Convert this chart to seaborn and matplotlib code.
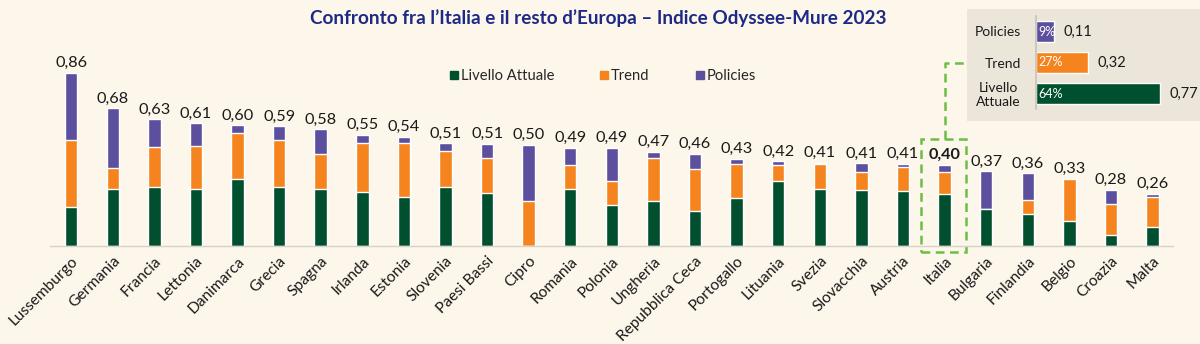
import matplotlib
matplotlib.use("Agg")
import matplotlib.pyplot as plt
import seaborn as sns
import pandas as pd
import numpy as np
from matplotlib.patches import Rectangle
from matplotlib.lines import Line2D

countries = ["Lussemburgo", "Germania", "Francia", "Lettonia", "Danimarca", "Grecia", "Spagna",
             "Irlanda", "Estonia", "Slovenia", "Paesi Bassi", "Cipro", "Romania", "Polonia",
             "Ungheria", "Repubblica Ceca", "Portogallo", "Lituania", "Svezia", "Slovacchia",
             "Austria", "Italia", "Bulgaria", "Finlandia", "Belgio", "Croazia", "Malta"]
livello = [0.19, 0.28, 0.29, 0.28, 0.33, 0.29, 0.28, 0.265, 0.24, 0.29, 0.26, 0.0, 0.28, 0.20,
           0.22, 0.17, 0.235, 0.32, 0.28, 0.275, 0.27, 0.257, 0.18, 0.16, 0.125, 0.055, 0.095]
trend = [0.335, 0.107, 0.20, 0.215, 0.232, 0.237, 0.175, 0.245, 0.27, 0.182, 0.177, 0.224, 0.121,
         0.123, 0.215, 0.21, 0.17, 0.08, 0.126, 0.089, 0.119, 0.107, 0.0, 0.065, 0.206, 0.153, 0.148]
policies = [0.335, 0.295, 0.138, 0.114, 0.036, 0.066, 0.123, 0.04, 0.03, 0.036, 0.07, 0.278, 0.087,
            0.164, 0.033, 0.078, 0.028, 0.02, 0.005, 0.046, 0.017, 0.037, 0.19, 0.134, 0.0, 0.071, 0.016]
totals = [0.86, 0.68, 0.63, 0.61, 0.60, 0.59, 0.58, 0.55, 0.54, 0.51, 0.51, 0.50, 0.49, 0.49,
          0.47, 0.46, 0.43, 0.42, 0.41, 0.41, 0.41, 0.40, 0.37, 0.36, 0.33, 0.28, 0.26]

ita_labels = ["Policies", "Trend", "Livello\nAttuale"]
ita_values = [0.11, 0.32, 0.77]
ita_pct = ["9%", "27%", "64%"]

C_GREEN = "#004F2E"
C_ORANGE = "#F5841F"
C_PURPLE = "#5B4F9E"
BG = "#FDF6EA"
BOX = "#ECE6DA"
DASH = "#6DBE45"
TITLE = "#1C2A86"
TXT = "#1A1A1A"

sns.set_theme(style="white")
plt.rcParams["font.family"] = ["Lato", "DejaVu Sans"]

df = pd.DataFrame({"country": countries, "livello": livello, "trend": trend, "policies": policies})
df["lt"] = df["livello"] + df["trend"]
df["all"] = df["lt"] + df["policies"]

fig = plt.figure(figsize=(12, 3.44), dpi=100, facecolor=BG)
W, H = 1200, 344

# Inset background box (drawn behind everything)
fig.add_artist(Rectangle((967 / W, 1 - 121 / H), 240 / W, 112 / H, facecolor=BOX,
                         edgecolor="none", transform=fig.transFigure, zorder=-1))

ax = fig.add_axes([50.4 / W, 1 - 245.7 / H, 1122.9 / W, (245.7 - 40) / H])
ax.set_facecolor("none")

sns.barplot(data=df, x="country", y="all", color=C_PURPLE, width=0.3, ax=ax, saturation=1)
sns.barplot(data=df, x="country", y="lt", color=C_ORANGE, width=0.3, ax=ax, saturation=1)
sns.barplot(data=df, x="country", y="livello", color=C_GREEN, width=0.3, ax=ax, saturation=1)

ax.set_xlim(-0.5, len(countries) - 0.5)
ax.set_ylim(0, (245.7 - 40) / 201.2)
ax.set_xlabel("")
ax.set_ylabel("")
ax.set_yticks([])
for s in ["top", "right", "left"]:
    ax.spines[s].set_visible(False)
ax.spines["bottom"].set_color("#D6D2CA")
ax.spines["bottom"].set_linewidth(1.0)
ax.tick_params(axis="x", length=0, pad=6)
ax.set_xticks(range(len(countries)))
ax.set_xticklabels(countries, rotation=45, ha="right", rotation_mode="anchor",
                   fontsize=11.2, color=TXT)

for i, (top, tot) in enumerate(zip(df["all"], totals)):
    ax.annotate(f"{tot:.2f}".replace(".", ","), (i, top), xytext=(0, 2),
                textcoords="offset points", ha="center", va="bottom", fontsize=11.7,
                color=TXT, fontweight="bold" if countries[i] == "Italia" else "normal")

handles = [Line2D([], [], marker="s", linestyle="none", markersize=6.0, color=c)
           for c in [C_GREEN, C_ORANGE, C_PURPLE]]
fig.legend(handles, ["Livello Attuale", "Trend", "Policies"], loc="center",
           bbox_to_anchor=(602 / W, 1 - 75.7 / H), ncol=3, frameon=False, fontsize=10.6,
           handletextpad=0.05, columnspacing=3.0, handlelength=0.8)

fig.text(598 / W, 1 - 18.5 / H, "Confronto fra l\u2019Italia e il resto d\u2019Europa \u2013 Indice Odyssee-Mure 2023",
         ha="center", va="center", fontsize=13.6, fontweight="bold", color=TITLE)

# Italy highlight box and connector
ii = countries.index("Italia")
rect = Rectangle((ii - 0.56, -0.031), 1.08, 0.56, fill=False, edgecolor=DASH, linewidth=1.8,
                 linestyle=(0, (3.5, 2.2)), clip_on=False, transform=ax.transData)
ax.add_patch(rect)
fig.canvas.draw()
px, py = ax.transData.transform((ii, 0.529))
fx, fy = fig.transFigure.inverted().transform((px, py))
fig.add_artist(Line2D([fx, fx, 967 / W], [fy, 1 - 63.3 / H, 1 - 63.3 / H], color=DASH,
                      linewidth=1.8, linestyle=(0, (3.5, 2.2)), transform=fig.transFigure))

iax = fig.add_axes([1036 / W, 1 - 109 / H, 164 / W, 93 / H])
iax.set_facecolor("none")
idf = pd.DataFrame({"label": ita_labels, "value": ita_values})
sns.barplot(data=idf, y="label", x="value", hue="label",
            palette=[C_PURPLE, C_ORANGE, C_GREEN], orient="h", width=0.66,
            ax=iax, saturation=1, legend=False)
iax.set_xlim(0, 164 / 161)
iax.set_ylim(2.5, -0.5)
iax.set_xlabel("")
iax.set_ylabel("")
iax.set_xticks([])
for s in ["top", "right", "bottom"]:
    iax.spines[s].set_visible(False)
iax.spines["left"].set_color("#C9C3B8")
iax.tick_params(axis="y", length=0, pad=11)
iax.set_yticks(range(3))
iax.set_yticklabels(ita_labels, fontsize=10, color=TXT, multialignment="center")
for i, (v, p) in enumerate(zip(ita_values, ita_pct)):
    iax.annotate(f"{v:.2f}".replace(".", ","), (v, i), xytext=(7, 0), textcoords="offset points",
                 ha="left", va="center", fontsize=10.5, color=TXT)
    iax.annotate(p, (0, i), xytext=(1.5, 0), textcoords="offset points",
                 ha="left", va="center", fontsize=9, color="white")

fig.savefig("out.png", dpi=100, facecolor=BG)
